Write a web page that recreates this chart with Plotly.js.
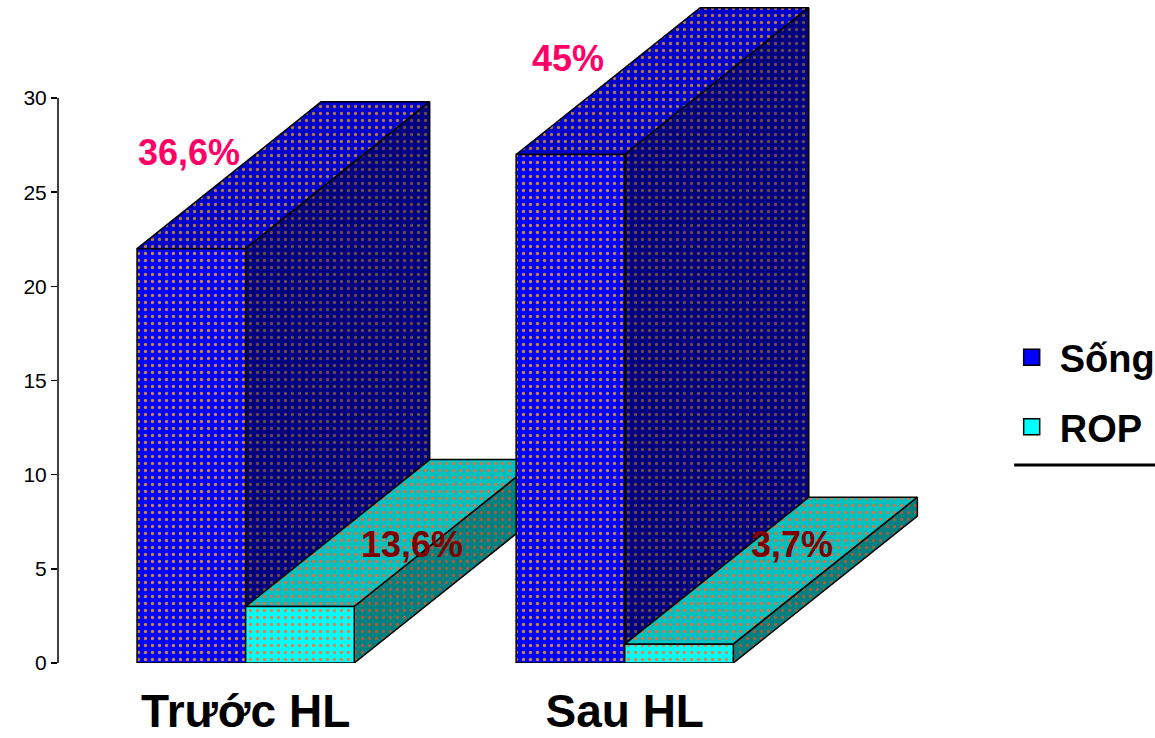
<!DOCTYPE html>
<html>
<head>
<meta charset="utf-8">
<script src="https://cdn.plot.ly/plotly-3.0.1.min.js"></script>
<style>html,body{margin:0;padding:0;background:#fff;}#chart{width:1155px;height:738px;}</style>
</head>
<body>
<div id="chart"></div>
<script>
// ---- data ----
const categories = ['Trước HL', 'Sau HL'];
const seriesNames = ['Sống', 'ROP'];
const song = [22, 27];
const rop = [3, 1];
const songLabels = ['36,6%', '45%'];
const ropLabels = ['13,6%', '3,7%'];
const yTickVals = [0, 5, 10, 15, 20, 25, 30];

// ---- style constants ----
const BAR_W = 0.2865;      // width of each bar in category units
const DEPTH_X = 0.4855;    // 3D depth offset (x, category units)
const DEPTH_Y = 7.8;       // 3D depth offset (y, value units)
const FONT = 'Liberation Sans, Arial, sans-serif';

const styles = {
  'Sống': {front: '#0000FF', top: '#0000CC', side: '#000080',
           dotFront: '#C8864A', dotTop: '#B07848', dotSide: '#6A4A4A'},
  'ROP':  {front: '#00FFFF', top: '#00C0C0', side: '#008080',
           dotFront: '#E0804A', dotTop: '#D0784A', dotSide: '#A0603A'}
};

function face(xs, ys, fill, dot) {
  return {
    type: 'scatter', mode: 'lines',
    x: xs.concat([xs[0]]), y: ys.concat([ys[0]]),
    fill: 'toself', fillcolor: fill,
    fillpattern: {shape: '.', bgcolor: fill, fgcolor: dot, size: 7, solidity: 0.18},
    line: {color: '#000000', width: 1.5},
    hoverinfo: 'skip', showlegend: false
  };
}

function box(x0, x1, h, st) {
  const dx = DEPTH_X, dy = DEPTH_Y;
  return [
    face([x0, x1, x1 + dx, x0 + dx], [h, h, h + dy, h + dy], st.top, st.dotTop),
    face([x1, x1, x1 + dx, x1 + dx], [0, h, h + dy, dy], st.side, st.dotSide),
    face([x0, x1, x1, x0], [0, 0, h, h], st.front, st.dotFront)
  ];
}

const traces = [];
categories.forEach((c, i) => {
  traces.push(...box(i - BAR_W, i, song[i], styles['Sống']));
  traces.push(...box(i, i + BAR_W, rop[i], styles['ROP']));
});

// legend entries
seriesNames.forEach((n, k) => {
  traces.push({
    type: 'scatter', mode: 'markers', x: [null], y: [null], name: n,
    legendgroup: 'g' + k,
    marker: {symbol: 'square', size: 16, color: styles[n].front,
             line: {color: '#000000', width: 1.5}},
    showlegend: true
  });
});

const annotations = [];
categories.forEach((c, i) => {
  annotations.push({x: i - 0.15, y: song[i] + 5.1, xref: 'x', yref: 'y',
    text: songLabels[i], showarrow: false,
    font: {family: FONT, size: 36, color: '#FF0066', weight: 'bold'}});
  annotations.push({x: i + 0.44, y: 6.3, xref: 'x', yref: 'y',
    text: ropLabels[i], showarrow: false,
    font: {family: FONT, size: 36, color: '#800000', weight: 'bold'}});
});

const layout = {
  width: 1155, height: 738,
  margin: {l: 58, r: 227, t: 5, b: 75, autoexpand: false},
  paper_bgcolor: '#ffffff', plot_bgcolor: '#ffffff',
  showlegend: true,
  xaxis: {
    range: [-0.495, 1.8], showgrid: false, zeroline: false, showline: false,
    tickvals: categories.map((c, i) => i), ticktext: categories,
    ticks: '', ticklabelstandoff: 17,
    tickfont: {family: FONT, size: 46, color: '#000000', weight: 'bold'},
    fixedrange: true
  },
  yaxis: {
    range: [0, 34.94], showgrid: false, zeroline: false, showline: false,
    tickvals: yTickVals, ticks: 'outside', ticklen: 6, tickwidth: 1.5, tickcolor: '#000000',
    tickfont: {family: FONT, size: 21, color: '#000000'},
    fixedrange: true
  },
  legend: {
    x: 1.087, xanchor: 'left', y: 0.512, yanchor: 'top',
    bgcolor: 'rgba(0,0,0,0)', borderwidth: 0,
    itemwidth: 46, tracegroupgap: 17, traceorder: 'grouped',
    font: {family: FONT, size: 38, color: '#000000', weight: 'bold'}
  },
  shapes: [
    {type: 'line', xref: 'paper', yref: 'y', x0: 0, x1: 0, y0: 0, y1: 30,
     line: {color: '#000000', width: 1.5}},
    {type: 'line', xref: 'paper', yref: 'paper', x0: 1.099, x1: 1.3, y0: 0.301, y1: 0.301,
     line: {color: '#000000', width: 3}}
  ],
  annotations: annotations
};

Plotly.newPlot('chart', traces, layout, {displayModeBar: false, staticPlot: true});
</script>
</body>
</html>
